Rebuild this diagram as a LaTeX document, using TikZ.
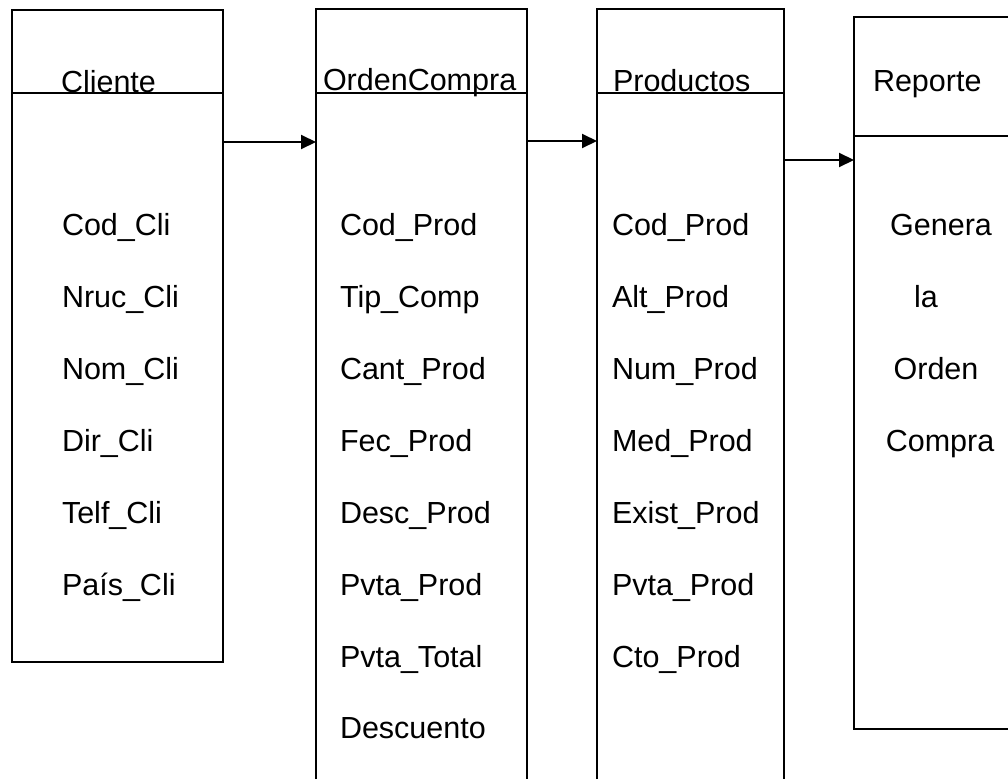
\documentclass[tikz,border=0pt]{standalone}
\usepackage{fontspec}
\setmainfont{Liberation Sans}
\usetikzlibrary{arrows.meta}
\begin{document}
\begin{tikzpicture}[x=1pt,y=-1pt,
  boxline/.style={line width=2pt,line join=miter},
  frame/.style={draw=none,rectangle,inner sep=0pt,outer sep=0pt,anchor=north west},
  txt/.style={inner sep=0pt,outer sep=0pt,font=\fontsize{30.5pt}{36pt}\selectfont},
  fieldw/.style={txt,anchor=base west},
  fieldc/.style={txt,anchor=base},
  arr/.style={line width=2pt,-{Triangle[length=15pt,width=14pt]}}]
\useasboundingbox (0,0) rectangle (1008,779);
% frames
\node[frame,minimum width=211pt,minimum height=652pt] (cli) at (12,10) {};
\node[frame,minimum width=211pt,minimum height=770pt] (oc) at (316,9) {};
\node[frame,minimum width=187pt,minimum height=770pt] (prod) at (597,9) {};
\node[frame,minimum width=154pt,minimum height=712pt] (rep) at (854,17) {};
% borders
\draw[boxline] (cli.north west) rectangle (cli.south east);
\draw[boxline] (cli.west |- 0,93) -- (cli.east |- 0,93);
\draw[boxline] (oc.south west) -- (oc.north west) -- (oc.north east) -- (oc.south east);
\draw[boxline] (oc.west |- 0,93) -- (oc.east |- 0,93);
\draw[boxline] (prod.south west) -- (prod.north west) -- (prod.north east) -- (prod.south east);
\draw[boxline] (prod.west |- 0,93) -- (prod.east |- 0,93);
\draw[boxline] (rep.north east) -- (rep.north west) -- (rep.south west) -- (rep.south east);
\draw[boxline] (rep.west |- 0,136) -- (rep.east |- 0,136);
% arrows
\draw[arr] (cli.east |- 0,142) -- (oc.west |- 0,142);
\draw[arr] (oc.east |- 0,141) -- (prod.west |- 0,141);
\draw[arr] (prod.east |- 0,160) -- (rep.west |- 0,160);
% headers
\node[fieldw] (hcli) at (61,92) {Cliente};
\node[fieldw] (hoc) at (323,90) {OrdenCompra};
\node[fieldw] (hprod) at (613,91) {Productos};
\node[fieldw] (hrep) at (873,91) {Reporte};
% Cliente fields
\node[fieldw] (c1) at (62,235) {Cod\_Cli};
\node[fieldw] (c2) at (62,307) {Nruc\_Cli};
\node[fieldw] (c3) at (62,379) {Nom\_Cli};
\node[fieldw] (c4) at (62,451) {Dir\_Cli};
\node[fieldw] (c5) at (62,523) {Telf\_Cli};
\node[fieldw] (c6) at (62,595) {País\_Cli};
% OrdenCompra fields
\node[fieldw] (o1) at (340,235) {Cod\_Prod};
\node[fieldw] (o2) at (340,307) {Tip\_Comp};
\node[fieldw] (o3) at (340,379) {Cant\_Prod};
\node[fieldw] (o4) at (340,451) {Fec\_Prod};
\node[fieldw] (o5) at (340,523) {Desc\_Prod};
\node[fieldw] (o6) at (340,595) {Pvta\_Prod};
\node[fieldw] (o7) at (340,667) {Pvta\_Total};
\node[fieldw] (o8) at (340,738) {Descuento};
% Productos fields
\node[fieldw] (p1) at (612,235) {Cod\_Prod};
\node[fieldw] (p2) at (612,307) {Alt\_Prod};
\node[fieldw] (p3) at (612,379) {Num\_Prod};
\node[fieldw] (p4) at (612,451) {Med\_Prod};
\node[fieldw] (p5) at (612,523) {Exist\_Prod};
\node[fieldw] (p6) at (612,595) {Pvta\_Prod};
\node[fieldw] (p7) at (612,667) {Cto\_Prod};
% Reporte text
\node[fieldc] (r1) at (941,235) {Genera};
\node[fieldc] (r2) at (926,307) {la};
\node[fieldc] (r3) at (936,379) {Orden};
\node[fieldc] (r4) at (940,451) {Compra};
\end{tikzpicture}
\end{document}
